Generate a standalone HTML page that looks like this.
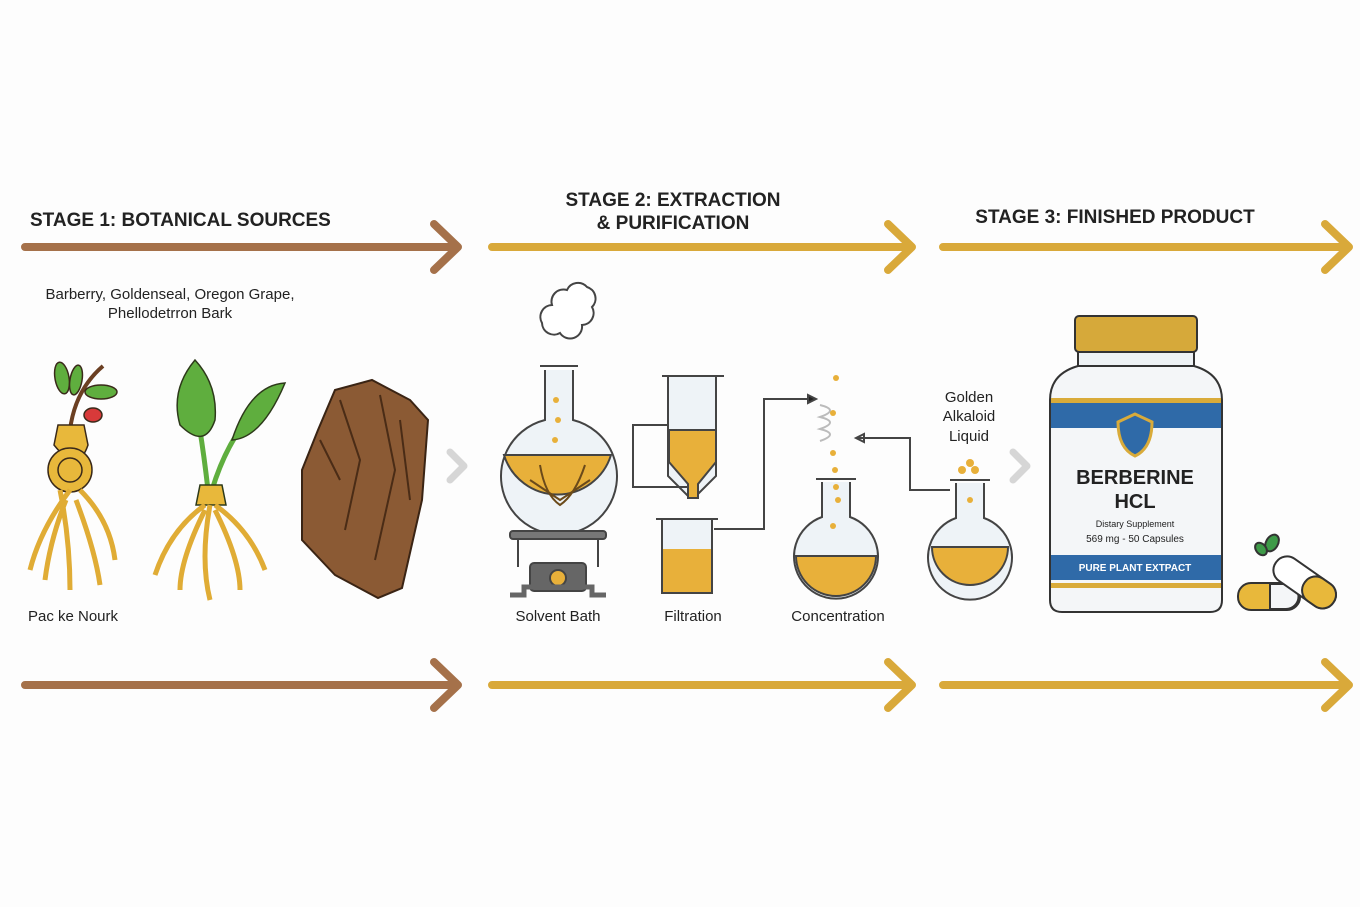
<!DOCTYPE html>
<html><head><meta charset="utf-8"><style>
html,body{margin:0;padding:0;background:#fdfdfd}
svg{display:block}
text{font-family:"Liberation Sans",sans-serif;fill:#222}
</style></head><body>
<svg width="1360" height="907" viewBox="0 0 1360 907" xmlns="http://www.w3.org/2000/svg">
<rect width="1360" height="907" fill="#fdfdfd"/>
<g stroke-linecap="round" stroke-linejoin="round" fill="none" stroke-width="8">
 <g stroke="#a5714a"><path d="M25 247H456M434 224L458 247L434 270"/><path d="M25 685H456M434 662L458 685L434 708"/></g>
 <g stroke="#d9a93a"><path d="M492 247H910M888 224L912 247L888 270"/><path d="M492 685H910M888 662L912 685L888 708"/>
 <path d="M943 247H1347M1325 224L1349 247L1325 270"/><path d="M943 685H1347M1325 662L1349 685L1325 708"/></g>
 <g stroke="#d6d6d6" stroke-width="7"><path d="M450 452L464 466L450 480"/><path d="M1013 452L1027 466L1013 480"/></g>
</g>
<g font-weight="bold" font-size="19">
 <text x="30" y="226">STAGE 1: BOTANICAL SOURCES</text>
 <text x="673" y="206" text-anchor="middle">STAGE 2: EXTRACTION</text>
 <text x="673" y="229" text-anchor="middle">&amp; PURIFICATION</text>
 <text x="1115" y="223" text-anchor="middle">STAGE 3: FINISHED PRODUCT</text>
</g>
<g font-size="15" text-anchor="middle">
 <text x="170" y="299">Barberry, Goldenseal, Oregon Grape,</text>
 <text x="170" y="318">Phellodetrron Bark</text>
 <text x="73" y="621">Pac ke Nourk</text>
 <text x="558" y="621">Solvent Bath</text>
 <text x="693" y="621">Filtration</text>
 <text x="838" y="621">Concentration</text>
 <text x="969" y="402">Golden</text>
 <text x="969" y="421">Alkaloid</text>
 <text x="969" y="441">Liquid</text>
</g>
<!-- plant 1 -->
<g stroke="#3a2a1a" stroke-width="1.5">
 <path d="M70 430Q75 390 103 366" stroke="#6b3f22" stroke-width="4" fill="none"/>
 <ellipse cx="62" cy="378" rx="7" ry="16" fill="#5fae3e" transform="rotate(-10 62 378)"/>
 <ellipse cx="76" cy="380" rx="6" ry="15" fill="#5fae3e" transform="rotate(10 76 380)"/>
 <ellipse cx="101" cy="392" rx="16" ry="7" fill="#5fae3e"/>
 <ellipse cx="93" cy="415" rx="9" ry="7" fill="#d83a3a"/>
 <path d="M58 425h26l4 20q-10 30-34 0z" fill="#e8b83b"/>
 <circle cx="70" cy="470" r="22" fill="#e8b83b"/>
 <circle cx="70" cy="470" r="12" fill="none"/>
 <path d="M60 490Q70 540 70 590M70 490Q40 530 30 570M80 490Q110 520 115 560M66 500Q50 540 45 580M76 500Q95 550 100 585" stroke="#e0ac35" stroke-width="5" fill="none"/>
</g>
<!-- plant 2 -->
<g stroke="#2d3a1a" stroke-width="1.5">
 <path d="M208 490Q200 420 190 380M212 490Q230 430 270 395" stroke="#5fae3e" stroke-width="5" fill="none"/>
 <path d="M195 360Q170 390 180 425Q205 450 215 420Q218 385 195 360Z" fill="#5fae3e"/>
 <path d="M285 383Q250 385 232 440Q262 438 285 383Z" fill="#5fae3e"/>
 <path d="M200 485h22l4 20h-30z" fill="#e8b83b"/>
 <path d="M210 505Q200 560 210 600M205 505Q170 530 155 575M215 505Q250 530 265 570M205 510Q180 560 180 590M215 510Q240 560 240 590" stroke="#e0ac35" stroke-width="5" fill="none"/>
</g>
<!-- bark -->
<path d="M335 390L372 380L410 400L428 420L422 500L402 588L378 598L335 575L302 540L302 470L318 430Z" fill="#8b5a34" stroke="#3a2414" stroke-width="2"/>
<path d="M340 400L360 460L345 530M380 395L395 470L375 560M320 440L340 480M400 420L410 500" stroke="#4a2c16" stroke-width="2" fill="none"/>
<!-- solvent bath -->
<g stroke="#444" stroke-width="2">
 <path d="M567 290a12 12 0 0 1 20 -3a12 12 0 0 1 5 20a12 12 0 0 1-10 18a12 12 0 0 1-22 8a12 12 0 0 1-18-10a12 12 0 0 1 10-18a12 12 0 0 1 15-15z" fill="#fff"/>
 <path d="M540 366h38M545 370v50a58 58 0 1 0 28 0v-50" fill="#eef3f7"/>
 <path d="M504 455h107a56 56 0 0 1-107 0z" fill="#e8b03a"/>
 <path d="M540 465q5 30 20 40q15-10 25-40M530 480l30 20l30-20" stroke="#6b4a1a" fill="none"/>
 <circle cx="556" cy="400" r="3" fill="#e8b03a" stroke="none"/><circle cx="558" cy="420" r="3" fill="#e8b03a" stroke="none"/><circle cx="555" cy="440" r="3" fill="#e8b03a" stroke="none"/>
 <rect x="510" y="531" width="96" height="8" rx="3" fill="#777"/>
 <path d="M518 539v28M598 539v28" fill="none"/>
 <rect x="530" y="563" width="56" height="28" rx="4" fill="#666"/>
 <circle cx="558" cy="578" r="8" fill="#e8b03a"/>
 <path d="M510 595h14v-8h68v8h14" fill="none" stroke="#666" stroke-width="5"/>
</g>
<!-- filtration -->
<g stroke="#444" stroke-width="2">
 <path d="M662 376h62M668 376v100l20 20v0h8l0 0 20-20v-100" fill="#eef3f7"/>
 <path d="M669 430h47v32l-18 22v14h-10v-14l-19-22z" fill="#e8b03a"/>
 <path d="M656 519h62M662 519v74h50v-74" fill="#eef3f7"/>
 <rect x="663" y="549" width="48" height="43" fill="#e8b03a" stroke="none"/>
 <path d="M668 425h-35v62h56M714 529h50v-130h44" fill="none"/>
 <path d="M808 395l8 4-8 4z" fill="#222"/>
</g>
<!-- concentration -->
<g stroke="#444" stroke-width="2">
 <path d="M816 479h40M822 482v35a42 42 0 1 0 28 0v-35" fill="#eef3f7"/>
 <path d="M796 556h80a40 40 0 0 1-80 0z" fill="#e8b03a"/>
 <path d="M950 490h-40v-52h-54M856 438l8-4v8z" fill="none"/>
 <path d="M820 405q20 5 0 12q20 5 0 12q20 5 0 12" stroke="#bbb" fill="none"/>
 <g fill="#e8b03a" stroke="none"><circle cx="836" cy="378" r="3"/><circle cx="833" cy="413" r="3"/><circle cx="833" cy="453" r="3"/><circle cx="835" cy="470" r="3"/><circle cx="836" cy="487" r="3"/><circle cx="838" cy="500" r="3"/><circle cx="833" cy="526" r="3"/></g>
 <path d="M950 480h40M956 483v35a42 42 0 1 0 28 0v-35" fill="#eef3f7"/>
 <path d="M932 547h76a38 38 0 0 1-76 0z" fill="#e8b03a"/>
 <g fill="#e8b03a" stroke="none"><circle cx="962" cy="470" r="4"/><circle cx="970" cy="463" r="4"/><circle cx="975" cy="470" r="4"/><circle cx="970" cy="500" r="3"/></g>
</g>
<!-- bottle -->
<g stroke="#333" stroke-width="2">
 <rect x="1075" y="316" width="122" height="36" rx="4" fill="#d6a93a"/>
 <rect x="1078" y="352" width="116" height="14" fill="#eef2f5"/>
 <path d="M1078 366q-28 8-28 34v200q0 12 12 12h148q12 0 12-12v-200q0-26-28-34z" fill="#f4f6f8"/>
</g>
<rect x="1051" y="398" width="170" height="30" fill="#2f6aa8"/>
<rect x="1051" y="398" width="170" height="5" fill="#d9ab3a"/>
<rect x="1051" y="555" width="170" height="25" fill="#2f6aa8"/>
<rect x="1051" y="583" width="170" height="5" fill="#d9ab3a"/>
<path d="M1118 422l17-8 17 8q0 26-17 34q-17-8-17-34z" fill="#2f6aa8" stroke="#d9ab3a" stroke-width="3"/>
<text x="1135" y="484" font-size="20" font-weight="bold" text-anchor="middle">BERBERINE</text>
<text x="1135" y="508" font-size="20" font-weight="bold" text-anchor="middle">HCL</text>
<text x="1135" y="527" font-size="9" text-anchor="middle" fill="#444">Distary Supplement</text>
<text x="1135" y="542" font-size="10" text-anchor="middle" fill="#444">569 mg - 50 Capsules</text>
<text x="1135" y="571" font-size="10" font-weight="bold" text-anchor="middle" style="fill:#fff">PURE PLANT EXTPACT</text>
<!-- capsules -->
<g stroke="#333" stroke-width="2">
 <rect x="1238" y="583" width="62" height="27" rx="13" fill="#e8b83b"/>
 <path d="M1270 584h16a12 12 0 0 1 0 25h-16z" fill="#f4f6f8"/>
 <g transform="rotate(35 1305 582)"><rect x="1270" y="569" width="70" height="27" rx="13" fill="#fff"/><rect x="1305" y="569" width="35" height="27" rx="13" fill="#e8b83b"/></g>
 <ellipse cx="1272" cy="543" rx="6" ry="9" fill="#3e9a48" transform="rotate(30 1272 543)"/>
 <ellipse cx="1261" cy="549" rx="5" ry="7" fill="#3e9a48" transform="rotate(-40 1261 549)"/>
</g>
</svg>
</body></html>
